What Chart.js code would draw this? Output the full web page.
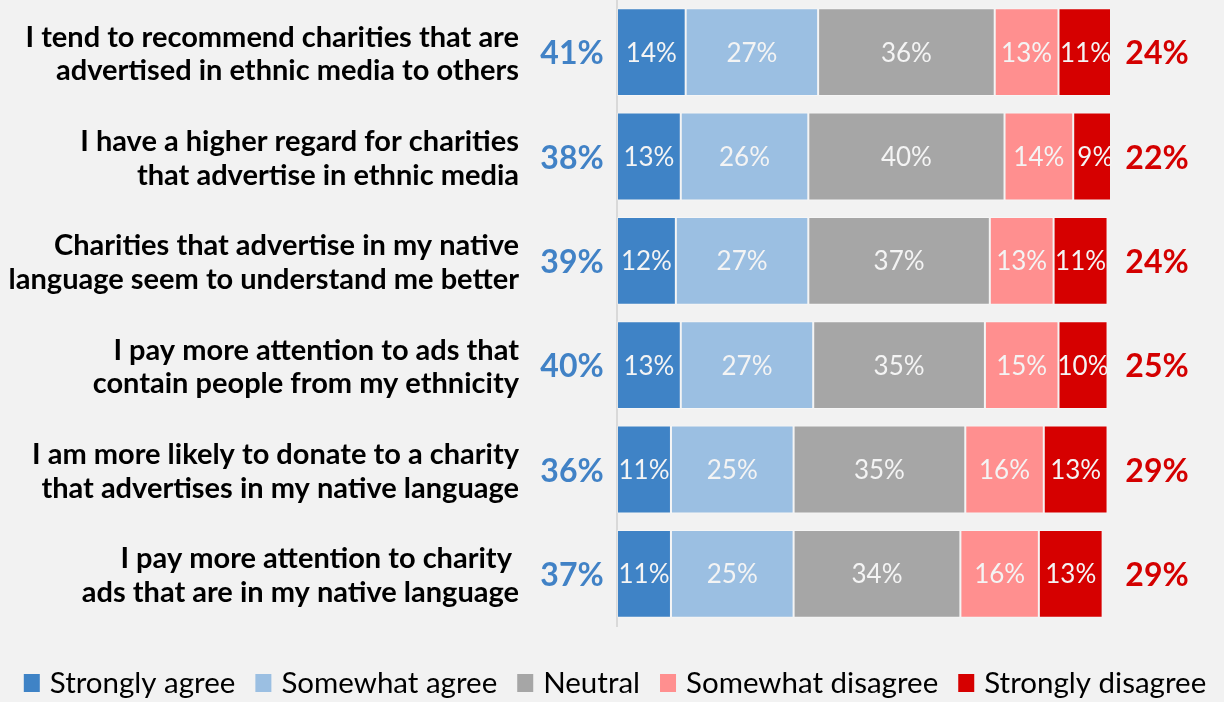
<!DOCTYPE html>
<html>
<head>
<meta charset="utf-8">
<title>Attitudes towards charity advertising in ethnic media</title>
<script src="https://cdn.jsdelivr.net/npm/chart.js@4/dist/chart.umd.min.js"></script>
<style>
  html, body { margin: 0; padding: 0; background: #f2f2f2; }
  #wrap { position: relative; width: 1224px; height: 702px; }
</style>
</head>
<body>
<div id="wrap"><canvas id="chart" width="1224" height="702"></canvas></div>
<script>
// Survey statements (two lines each)
const statements = [
  ['I tend to recommend charities that are', 'advertised in ethnic media to others'],
  ['I have a higher regard for charities', 'that advertise in ethnic media'],
  ['Charities that advertise in my native', 'language seem to understand me better'],
  ['I pay more attention to ads that', 'contain people from my ethnicity'],
  ['I am more likely to donate to a charity', 'that advertises in my native language'],
  ['I pay more attention to charity ', 'ads that are in my native language']
];

const seriesNames = ['Strongly agree', 'Somewhat agree', 'Neutral', 'Somewhat disagree', 'Strongly disagree'];

// Share of respondents (%)
const stronglyAgree     = [14, 13, 12, 13, 11, 11];
const somewhatAgree     = [27, 26, 27, 27, 25, 25];
const neutral           = [36, 40, 37, 35, 35, 34];
const somewhatDisagree  = [13, 14, 13, 15, 16, 16];
const stronglyDisagree  = [11,  9, 11, 10, 13, 13];

// Net agree / net disagree totals
const agreeTotals    = [41, 38, 39, 40, 36, 37];
const disagreeTotals = [24, 22, 24, 25, 29, 29];

const seriesColors = ['#3f83c6', '#9bbfe2', '#a6a6a6', '#ff8f8f', '#d60000'];
const FONT = 'Lato, "Open Sans", sans-serif';

Chart.defaults.font.family = FONT;

const seriesValues = [stronglyAgree, somewhatAgree, neutral, somewhatDisagree, stronglyDisagree];

// White percentage labels inside every segment
const segmentLabels = {
  id: 'segmentLabels',
  afterDatasetsDraw(chart) {
    const ctx = chart.ctx;
    ctx.save();
    ctx.font = '400 26px ' + FONT;
    ctx.fillStyle = '#f4f4f4';
    ctx.textAlign = 'center';
    ctx.textBaseline = 'middle';
    chart.data.datasets.forEach((ds, di) => {
      const meta = chart.getDatasetMeta(di);
      meta.data.forEach((bar, i) => {
        const p = bar.getProps(['x', 'base', 'y'], true);
        ctx.fillText(ds.data[i] + '%', (p.x + p.base) / 2, p.y + 1);
      });
    });
    ctx.restore();
  }
};

// Net agree (left, blue) and net disagree (right, red) totals
const netTotals = {
  id: 'netTotals',
  afterDraw(chart) {
    const ctx = chart.ctx;
    const yScale = chart.scales.y;
    const area = chart.chartArea;
    ctx.save();
    ctx.font = '700 32px ' + FONT;
    ctx.textAlign = 'center';
    ctx.textBaseline = 'middle';
    statements.forEach((_, i) => {
      const y = yScale.getPixelForValue(i) + 2;
      ctx.fillStyle = '#4182c6';
      ctx.fillText(agreeTotals[i] + '%', area.left - 45, y);
      ctx.fillStyle = '#d40000';
      ctx.fillText(disagreeTotals[i] + '%', area.right + 47, y);
    });
    ctx.restore();
  }
};

// Single-row legend across the bottom
const bottomLegend = {
  id: 'bottomLegend',
  afterDraw(chart) {
    const ctx = chart.ctx;
    const boxW = 16, boxH = 18, textGap = 10, itemGap = 20;
    ctx.save();
    ctx.font = '400 29.5px ' + FONT;
    ctx.textBaseline = 'middle';
    ctx.textAlign = 'left';
    const widths = seriesNames.map(n => ctx.measureText(n).width);
    const total = widths.reduce((s, w) => s + boxW + textGap + w, 0) + itemGap * (seriesNames.length - 1);
    let x = (chart.width - total) / 2 + 3;
    const cy = 683;
    seriesNames.forEach((name, i) => {
      ctx.fillStyle = seriesColors[i];
      ctx.fillRect(x, cy - boxH / 2, boxW, boxH);
      ctx.fillStyle = '#000000';
      ctx.fillText(name, x + boxW + textGap, cy);
      x += boxW + textGap + widths[i] + itemGap;
    });
    ctx.restore();
  }
};

new Chart(document.getElementById('chart'), {
  type: 'bar',
  data: {
    labels: statements,
    datasets: seriesNames.map((name, i) => ({
      label: name,
      data: seriesValues[i],
      backgroundColor: seriesColors[i],
      borderColor: 'rgba(255,255,255,0.3)',
      borderWidth: 1,
      borderSkipped: false,
      barPercentage: 0.842,
      categoryPercentage: 1.0
    }))
  },
  options: {
    indexAxis: 'y',
    responsive: false,
    animation: false,
    devicePixelRatio: 1,
    layout: { padding: { top: -1, right: 114, bottom: 76, left: 0 } },
    plugins: {
      legend: { display: false },
      tooltip: { enabled: false }
    },
    scales: {
      x: {
        stacked: true,
        display: false,
        min: 0,
        max: 100.5
      },
      y: {
        stacked: true,
        grid: { display: false },
        border: { display: true, color: '#d9d9d9', width: 2 },
        afterFit(scale) {
          scale.width = 617;
          scale.paddingTop = 0;
          scale.paddingBottom = 0;
        },
        ticks: {
          padding: 90,
          labelOffset: 2,
          crossAlign: 'near',
          color: '#000000',
          font: { family: FONT, size: 29, weight: '700', lineHeight: 1.17 }
        }
      }
    }
  },
  plugins: [segmentLabels, netTotals, bottomLegend]
});
</script>
</body>
</html>
